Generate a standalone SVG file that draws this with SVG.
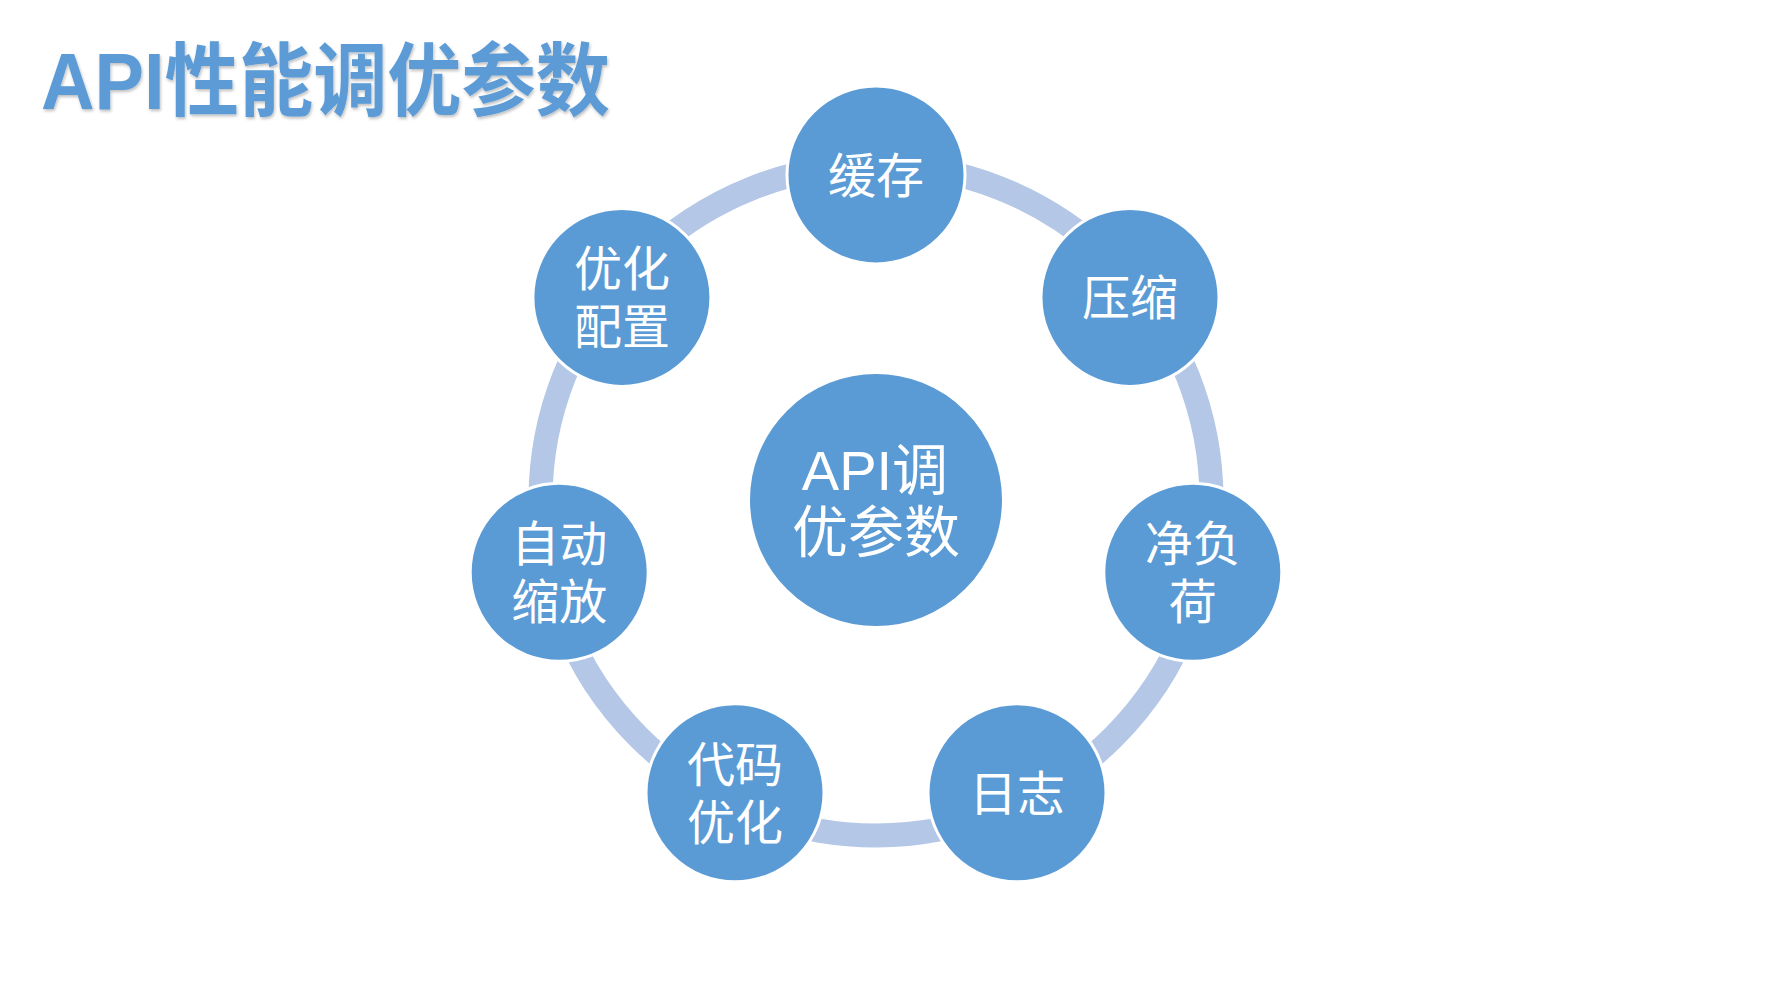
<svg xmlns="http://www.w3.org/2000/svg" width="1768" height="986" viewBox="0 0 1768 986">
<defs>
<style>
.node{fill:#5B9BD5;stroke:#FFFFFF;stroke-width:3}
.lbl{fill:#FFFFFF;font-family:"Noto Sans CJK SC",sans-serif;font-size:48px;text-anchor:middle}
.clbl{fill:#FFFFFF;font-family:"Liberation Sans","Noto Sans CJK SC",sans-serif;font-size:56px;text-anchor:middle}
.title{fill:#5B9BD5;font-family:"Liberation Sans","Noto Sans CJK SC",sans-serif;font-size:80px;font-weight:bold}
</style>
<filter id="sh" x="-5%" y="-20%" width="110%" height="140%">
<feDropShadow dx="1" dy="2" stdDeviation="1.5" flood-color="#000000" flood-opacity="0.25"/>
</filter>
</defs>
<rect width="1768" height="986" fill="#FFFFFF"/>
<text class="title" x="41" y="109" textLength="569" lengthAdjust="spacingAndGlyphs" filter="url(#sh)">API性能调优参数</text>
<g id="connectors">
<circle cx="876" cy="500" r="335.5" fill="none" stroke="#B4C7E7" stroke-width="24"/>
</g>
<g id="center">
<circle cx="876" cy="500" r="127.5" class="node"/>
<text class="clbl" x="875" y="490">API调</text>
<text class="clbl" x="876" y="552">优参数</text>
</g>
<g id="n-cache">
<circle cx="876" cy="175" r="89" class="node"/>
<text class="lbl" x="876" y="193">缓存</text>
</g>
<g id="n-compress">
<circle cx="1130" cy="297.4" r="89" class="node"/>
<text class="lbl" x="1130" y="315">压缩</text>
</g>
<g id="n-payload">
<circle cx="1192.8" cy="572.3" r="89" class="node"/>
<text class="lbl" x="1192.8" y="561">净负</text>
<text class="lbl" x="1192.8" y="619">荷</text>
</g>
<g id="n-log">
<circle cx="1017" cy="792.8" r="89" class="node"/>
<text class="lbl" x="1017" y="811">日志</text>
</g>
<g id="n-code">
<circle cx="735" cy="792.8" r="89" class="node"/>
<text class="lbl" x="735" y="782">代码</text>
<text class="lbl" x="735" y="840">优化</text>
</g>
<g id="n-autoscale">
<circle cx="559.2" cy="572.3" r="89" class="node"/>
<text class="lbl" x="559.2" y="561">自动</text>
<text class="lbl" x="559.2" y="619">缩放</text>
</g>
<g id="n-config">
<circle cx="621.9" cy="297.4" r="89" class="node"/>
<text class="lbl" x="621.9" y="286">优化</text>
<text class="lbl" x="621.9" y="344">配置</text>
</g>
</svg>
